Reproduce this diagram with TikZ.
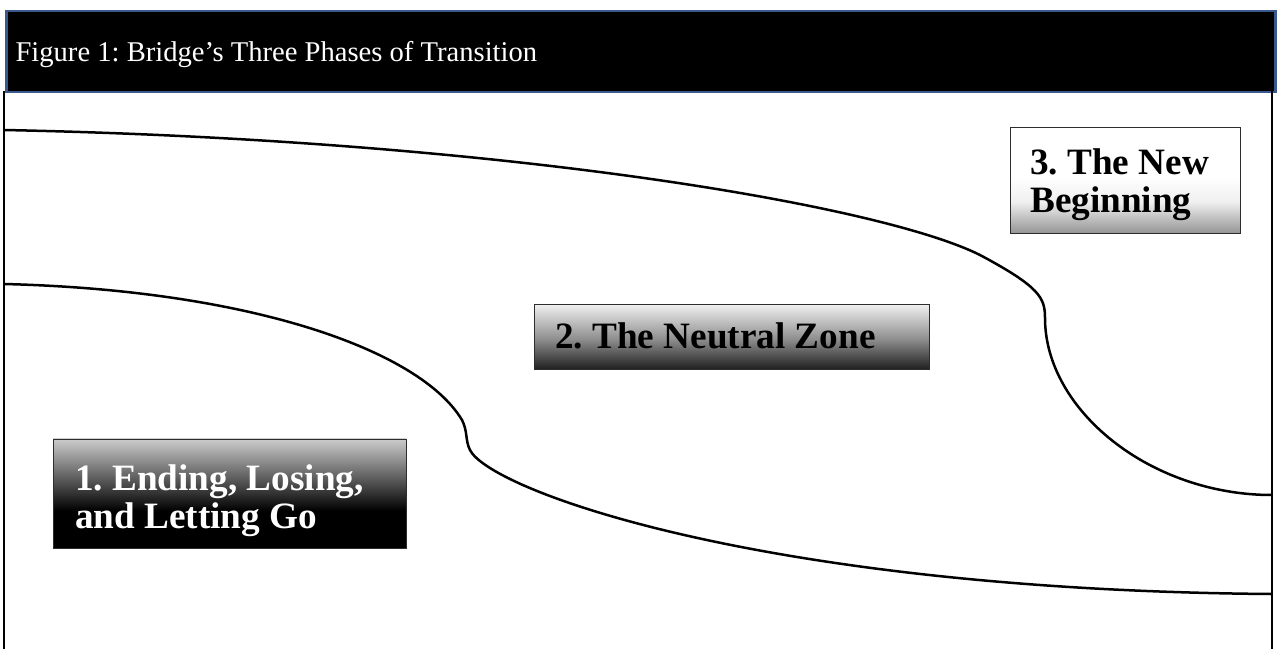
\documentclass[tikz,border=0pt]{standalone}
\usepackage{fontspec}
\setmainfont{Liberation Serif}
\usepackage{xcolor}
\usepackage{tikz}
\usetikzlibrary{positioning,calc}
\definecolor{hdrblue}{RGB}{58,88,140}
\definecolor{boxedge}{RGB}{45,45,45}
% fades for the three phase boxes (bottom = 25bp, top = 75bp)
\pgfdeclareverticalshading{endfade}{100bp}{color(0bp)=(black); color(25bp)=(black);
  color(42bp)=(black); color(75bp)=(black!20); color(100bp)=(black!20)}
\pgfdeclareverticalshading{neutralfade}{100bp}{color(0bp)=(black!88); color(25bp)=(black!88);
  color(48bp)=(black!45); color(75bp)=(black!6); color(100bp)=(black!6)}
\pgfdeclareverticalshading{newfade}{100bp}{color(0bp)=(black!42); color(25bp)=(black!42);
  color(40bp)=(black!6); color(52bp)=(white); color(75bp)=(white); color(100bp)=(white)}
\frenchspacing

\begin{document}
\begin{tikzpicture}[x=1pt,y=-1pt,
  hdr/.style={draw=hdrblue, line width=2.5pt, fill=black, anchor=north west,
              inner sep=0pt},
  phasebox/.style={draw=boxedge, line width=0.9pt, anchor=north west, inner sep=0pt},
  phasetxt/.style={align=left, inner sep=0pt,
                   font=\fontsize{37.2}{38.5}\selectfont\bfseries},
  border/.style={line width=2pt},
  curve/.style={line width=2.5pt, line join=round}
]
  \useasboundingbox (0,0) rectangle (1277,649);

  % title bar
  \node[hdr, minimum width=1269pt, minimum height=81pt](hdr) at (5,9.5){};
  \node[right=7pt of hdr.west, yshift=-3pt, text=white,
        font=\fontsize{28.6}{30}\selectfont](title){Figure 1: Bridge’s Three Phases of Transition};

  % side lines
  \coordinate (lt) at (4,91);
  \coordinate (lb) at (4,649);
  \coordinate (rt) at (1272,91);
  \coordinate (rb) at (1272,649);
  \draw[border](lt)--(lb);
  \draw[border](rt)--(rb);

  % the two boundaries
  \coordinate (ua) at (4,130);
  \coordinate (ub) at (980,255);
  \coordinate (uc) at (1045,318);
  \coordinate (ud) at (1272,495);
  \draw[curve](ua) .. controls (500,140) and (880,205) .. (ub)
                   .. controls (1040,287) and (1045,298) .. (uc)
                   .. controls (1045,410) and (1150,495) .. (ud);
  \coordinate (la) at (4,284);
  \coordinate (lb) at (462,420);
  \coordinate (lc) at (470,450);
  \coordinate (ld) at (1272,594);
  \draw[curve](la) .. controls (250,290) and (420,350) .. (lb)
                   .. controls (468,432) and (465,440) .. (lc)
                   .. controls (490,490) and (760,590) .. (ld);

  % phase boxes
  \node[phasebox, shading=endfade, minimum width=353pt, minimum height=109pt](ending) at (53,438.5){};
  \node[phasetxt, text=white, right=22pt of ending.west, yshift=-7pt](endingtxt){1. Ending, Losing,\\and Letting Go};

  \node[phasebox, shading=neutralfade, minimum width=395pt, minimum height=65pt](neutral) at (534,304){};
  \node[phasetxt, right=21pt of neutral.west, yshift=1pt](neutraltxt){2. The Neutral Zone};

  \node[phasebox, shading=newfade, minimum width=230pt, minimum height=106pt](newbeg) at (1010,127){};
  \node[phasetxt, right=20pt of newbeg.west, yshift=-4pt](newbegtxt){3. The New\\Beginning};
\end{tikzpicture}
\end{document}
